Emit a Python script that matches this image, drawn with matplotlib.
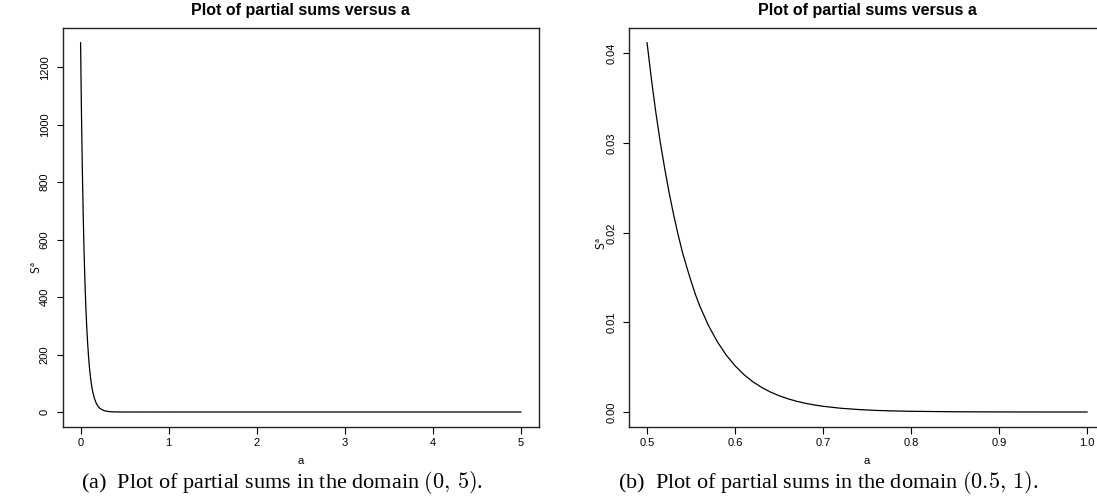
import matplotlib
matplotlib.use('Agg')
import matplotlib.pyplot as plt

plt.rcParams['font.family'] = ['Liberation Sans', 'DejaVu Sans']
plt.rcParams['mathtext.fontset'] = 'cm'

# values, panel (a): a in (0, 5)
aLeft = [0.0, 0.01, 0.02, 0.03, 0.04, 0.05, 0.06, 0.07, 0.08, 0.09, 0.10,
         0.11, 0.12, 0.13, 0.14, 0.15, 0.16, 0.18, 0.20, 0.22, 0.26, 0.30,
         0.35, 0.40, 0.50, 1.0, 2.0, 3.0, 4.0, 5.0]
sLeft = [1285, 1041, 843, 683, 553, 448, 363, 295, 240, 195, 157,
         127, 103, 84, 68, 55, 45, 29, 19, 12.7, 5.5, 2.4,
         0.8, 0.3, 0.04, 0.0, 0.0, 0.0, 0.0, 0.0]

# panel (b): a in (0.5, 1)
aRight = [0.500, 0.505, 0.510, 0.515, 0.520, 0.525, 0.530, 0.535, 0.540,
          0.545, 0.550, 0.555, 0.560, 0.570, 0.580, 0.590, 0.600, 0.610,
          0.620, 0.630, 0.640, 0.650, 0.660, 0.670, 0.680, 0.690, 0.700,
          0.720, 0.740, 0.760, 0.780, 0.800, 0.850, 0.900, 0.950, 1.000]
sRight = [0.0412, 0.0371, 0.0334, 0.0301, 0.0272, 0.0245, 0.0221, 0.0199,
          0.0179, 0.0162, 0.0146, 0.0131, 0.0118, 0.00961, 0.00782, 0.00635,
          0.00516, 0.00418, 0.00339, 0.00276, 0.00224, 0.00182, 0.00148,
          0.00120, 0.00097, 0.00079, 0.00064, 0.00042, 0.00028, 0.00018,
          0.00012, 0.00008, 0.00003, 0.00001, 0.000004, 0.000001]

leftTicksX = [0, 1, 2, 3, 4, 5]
leftTicksY = [0, 200, 400, 600, 800, 1000, 1200]
rightTicksX = [0.5, 0.6, 0.7, 0.8, 0.9, 1.0]
rightTicksY = [0.00, 0.01, 0.02, 0.03, 0.04]

titleText = 'Plot of partial sums versus a'
captions = [r'(a)  Plot of partial sums in the domain $(0,\,5)$.',
            r'(b)  Plot of partial sums in the domain $(0.5,\,1)$.']


def rRange(vals):
    # R style 4% padding on each side
    lo, hi = min(vals), max(vals)
    d = (hi - lo) * 0.04
    return lo - d, hi + d


def rPlot(ax, x, y, xt, yt, xfmt, yfmt, ylabPos):
    ax.plot(x, y, color='black', lw=0.9)
    ax.set_xlim(*rRange(x))
    ax.set_ylim(*rRange(y))
    ax.set_xticks(xt)
    ax.set_xticklabels([xfmt % v for v in xt])
    ax.set_yticks(yt)
    ax.set_yticklabels([yfmt % v for v in yt], rotation=90, va='center')
    ax.tick_params(axis='x', direction='out', length=5, width=0.8,
                   labelsize=8, pad=3)
    ax.tick_params(axis='y', direction='out', length=4.5, width=0.8,
                   labelsize=8, pad=5)
    for sp in ax.spines.values():
        sp.set_linewidth(1.0)
        sp.set_color('#222222')
    ax.spines['right'].set_visible(ax is axL)
    ax.set_title(titleText, fontsize=11.5, fontweight='bold', pad=9)
    ax.set_xlabel('a', fontsize=8, labelpad=6)
    ax.set_ylabel(r'$\mathsf{S}^{\mathsf{a}}$', fontsize=9, va='center')
    ax.yaxis.set_label_coords(*ylabPos)


fig = plt.figure(figsize=(10.97, 5.04), dpi=100)
axL = fig.add_axes([0.0574, 0.1532, 0.4335, 0.7913])
axR = fig.add_axes([0.5738, 0.1532, 0.4332, 0.7913])

rPlot(axL, aLeft, sLeft, leftTicksX, leftTicksY, '%d', '%d', (-0.055, 0.40))
rPlot(axR, aRight, sRight, rightTicksX, rightTicksY, '%.1f', '%.2f',
      (-0.058, 0.46))

fig.text(282 / 1097, 1 - 483 / 504, captions[0], family='Liberation Serif',
         fontsize=16, ha='center', va='center')
fig.text(828 / 1097, 1 - 483 / 504, captions[1], family='Liberation Serif',
         fontsize=16, ha='center', va='center')

fig.savefig('out.png', dpi=100)
